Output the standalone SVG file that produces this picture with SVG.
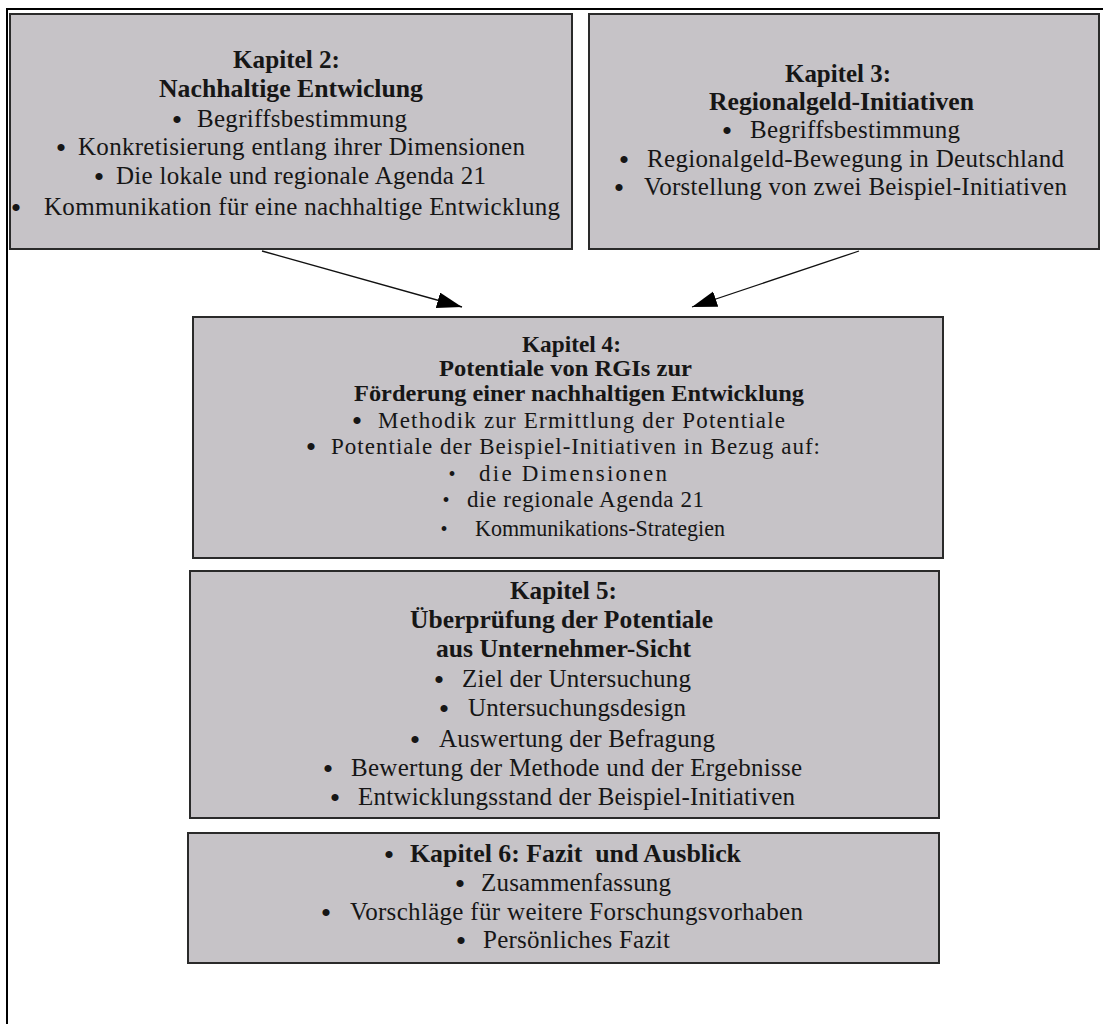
<svg xmlns="http://www.w3.org/2000/svg" width="1103" height="1024" viewBox="0 0 1103 1024">
<defs>
<style>
.box{fill:#c6c3c7;stroke:#2a2a2a;stroke-width:2}
.frame{stroke:#000;stroke-width:2;fill:none}
text{font-family:"Liberation Serif","Times New Roman",serif;fill:#161616}
.t{font-size:25px}
.tb{font-size:25px;font-weight:bold}
.s{font-size:23px}
.sb{font-size:23px;font-weight:bold}
.bl{font-size:30px;text-anchor:middle;font-weight:normal}
.bs{font-size:20px;text-anchor:middle}
.tx{text-anchor:start}
.conn{stroke:#111;stroke-width:1.3;fill:none}
</style>
<marker id="ah" markerUnits="userSpaceOnUse" markerWidth="26" markerHeight="18" refX="25" refY="8" orient="auto">
<path d="M0,0 L25,8 L0,16 Z" fill="#000"/>
</marker>
</defs>
<rect width="1103" height="1024" fill="#fff"/>
<path class="frame" d="M6,9 H1103 M7,9 V1024"/>

<g id="kapitel2">
<rect class="box" x="10" y="14" width="562" height="235"/>
<text class="tb" x="233" y="68" textLength="107" lengthAdjust="spacingAndGlyphs">Kapitel 2:</text>
<text class="tb" x="159" y="97" textLength="264" lengthAdjust="spacingAndGlyphs">Nachhaltige Entwiclung</text>
<text class="t" y="127"><tspan class="bl" x="177" dy="3">•</tspan><tspan class="tx" x="197" dy="-3" textLength="210" lengthAdjust="spacing">Begriffsbestimmung</tspan></text>
<text class="t" y="155"><tspan class="bl" x="61" dy="3">•</tspan><tspan class="tx" x="78" dy="-3" textLength="447" lengthAdjust="spacing">Konkretisierung entlang ihrer Dimensionen</tspan></text>
<text class="t" y="184"><tspan class="bl" x="99" dy="3">•</tspan><tspan class="tx" x="116" dy="-3" textLength="370" lengthAdjust="spacing">Die lokale und regionale Agenda 21</tspan></text>
<text class="t" y="215"><tspan class="bl" x="16" dy="3">•</tspan><tspan class="tx" x="44" dy="-3" textLength="516" lengthAdjust="spacing">Kommunikation für eine nachhaltige Entwicklung</tspan></text>
</g>

<g id="kapitel3">
<rect class="box" x="589" y="14" width="510" height="235"/>
<text class="tb" x="785" y="82" textLength="106" lengthAdjust="spacingAndGlyphs">Kapitel 3:</text>
<text class="tb" x="709" y="110" textLength="265" lengthAdjust="spacingAndGlyphs">Regionalgeld-Initiativen</text>
<text class="t" y="138"><tspan class="bl" x="727" dy="3">•</tspan><tspan class="tx" x="750" dy="-3" textLength="210" lengthAdjust="spacing">Begriffsbestimmung</tspan></text>
<text class="t" y="167"><tspan class="bl" x="624" dy="3">•</tspan><tspan class="tx" x="647" dy="-3" textLength="417" lengthAdjust="spacing">Regionalgeld-Bewegung in Deutschland</tspan></text>
<text class="t" y="195"><tspan class="bl" x="619" dy="3">•</tspan><tspan class="tx" x="644" dy="-3" textLength="423" lengthAdjust="spacing">Vorstellung von zwei Beispiel-Initiativen</tspan></text>
</g>

<g id="connectors">
<line class="conn" x1="262" y1="251" x2="462" y2="307" marker-end="url(#ah)"/>
<line class="conn" x1="859" y1="251" x2="692" y2="307" marker-end="url(#ah)"/>
</g>

<g id="kapitel4">
<rect class="box" x="193" y="317" width="750" height="241"/>
<text class="sb" x="522" y="352" textLength="99" lengthAdjust="spacingAndGlyphs">Kapitel 4:</text>
<text class="sb" x="439" y="376" textLength="253" lengthAdjust="spacingAndGlyphs">Potentiale von RGIs zur</text>
<text class="sb" x="354" y="401" textLength="450" lengthAdjust="spacingAndGlyphs">Förderung einer nachhaltigen Entwicklung</text>
<text class="s" y="428"><tspan class="bl" x="357" dy="3">•</tspan><tspan class="tx" x="378" dy="-3" textLength="407" lengthAdjust="spacing">Methodik zur Ermittlung der Potentiale</tspan></text>
<text class="s" y="454"><tspan class="bl" x="311" dy="3">•</tspan><tspan class="tx" x="331" dy="-3" textLength="489" lengthAdjust="spacing">Potentiale der Beispiel-Initiativen in Bezug auf:</tspan></text>
<text class="s" y="481"><tspan class="bs" x="452">•</tspan><tspan class="tx" x="479" textLength="188" lengthAdjust="spacing">die Dimensionen</tspan></text>
<text class="s" y="507"><tspan class="bs" x="446">•</tspan><tspan class="tx" x="467" textLength="237" lengthAdjust="spacing">die regionale Agenda 21</tspan></text>
<text class="s" y="536"><tspan class="bs" x="444">•</tspan><tspan class="tx" x="475" textLength="250" lengthAdjust="spacingAndGlyphs">Kommunikations-Strategien</tspan></text>
</g>

<g id="kapitel5">
<rect class="box" x="190" y="571" width="749" height="247"/>
<text class="tb" x="510" y="599" textLength="107" lengthAdjust="spacingAndGlyphs">Kapitel 5:</text>
<text class="tb" x="410" y="628" textLength="303" lengthAdjust="spacingAndGlyphs">Überprüfung der Potentiale</text>
<text class="tb" x="436" y="657" textLength="255" lengthAdjust="spacingAndGlyphs">aus Unternehmer-Sicht</text>
<text class="t" y="687"><tspan class="bl" x="439" dy="3">•</tspan><tspan class="tx" x="462" dy="-3" textLength="229" lengthAdjust="spacing">Ziel der Untersuchung</tspan></text>
<text class="t" y="716"><tspan class="bl" x="444" dy="3">•</tspan><tspan class="tx" x="468" dy="-3" textLength="218" lengthAdjust="spacing">Untersuchungsdesign</tspan></text>
<text class="t" y="747"><tspan class="bl" x="415" dy="3">•</tspan><tspan class="tx" x="439" dy="-3" textLength="276" lengthAdjust="spacing">Auswertung der Befragung</tspan></text>
<text class="t" y="776"><tspan class="bl" x="328" dy="3">•</tspan><tspan class="tx" x="351" dy="-3" textLength="451" lengthAdjust="spacing">Bewertung der Methode und der Ergebnisse</tspan></text>
<text class="t" y="805"><tspan class="bl" x="335" dy="3">•</tspan><tspan class="tx" x="358" dy="-3" textLength="437" lengthAdjust="spacing">Entwicklungsstand der Beispiel-Initiativen</tspan></text>
</g>

<g id="kapitel6">
<rect class="box" x="188" y="833" width="751" height="130"/>
<text class="tb" y="862" xml:space="preserve"><tspan class="bl" x="389" dy="3">•</tspan><tspan class="tx" x="410" dy="-3" textLength="331" lengthAdjust="spacingAndGlyphs">Kapitel 6: Fazit  und Ausblick</tspan></text>
<text class="t" y="891"><tspan class="bl" x="460" dy="3">•</tspan><tspan class="tx" x="481" dy="-3" textLength="190" lengthAdjust="spacing">Zusammenfassung</tspan></text>
<text class="t" y="920"><tspan class="bl" x="326" dy="3">•</tspan><tspan class="tx" x="350" dy="-3" textLength="453" lengthAdjust="spacing">Vorschläge für weitere Forschungsvorhaben</tspan></text>
<text class="t" y="948"><tspan class="bl" x="461" dy="3">•</tspan><tspan class="tx" x="483" dy="-3" textLength="187" lengthAdjust="spacing">Persönliches Fazit</tspan></text>
</g>
</svg>
